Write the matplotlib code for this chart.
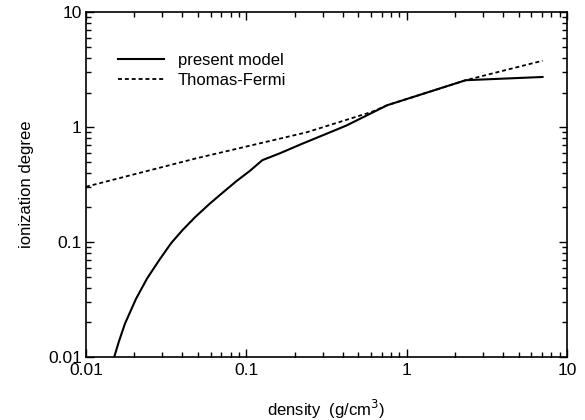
import matplotlib
matplotlib.use("Agg")
import matplotlib.pyplot as plt
from matplotlib.ticker import LogLocator, FuncFormatter, NullFormatter

plt.rcParams['font.family'] = ['Liberation Sans', 'DejaVu Sans']

# present model
pm_x = [0.0150, 0.0160, 0.0175, 0.0205, 0.0240, 0.0287, 0.034, 0.0402, 0.048, 0.059, 0.071, 0.0866,
        0.105, 0.126, 0.163, 0.217, 0.42, 0.757, 1.06, 2.34, 7.05]
pm_y = [0.0100, 0.0135, 0.0195, 0.0320, 0.048, 0.070, 0.098, 0.128, 0.165, 0.215, 0.268, 0.338,
        0.415, 0.516, 0.594, 0.705, 1.03, 1.55, 1.80, 2.56, 2.73]

# Thomas-Fermi
tf_x = [0.01, 0.0487, 0.237, 0.61, 0.757, 1.06, 2.34, 7.05]
tf_y = [0.303, 0.535, 0.90, 1.36, 1.55, 1.80, 2.56, 3.78]

fig = plt.figure(figsize=(5.85, 4.2), dpi=100)
ax = fig.add_axes([0.147, 0.15, 0.822, 0.821])

ax.plot(pm_x, pm_y, color='black', lw=1.5, label='present model')
ax.plot(tf_x, tf_y, color='black', lw=1.3, linestyle=(0, (2.2, 1.6)), label='Thomas-Fermi')

ax.set_xscale('log')
ax.set_yscale('log')
ax.set_xlim(0.01, 10)
ax.set_ylim(0.01, 10)

fmt = FuncFormatter(lambda v, p: f"{v:g}")
for a in (ax.xaxis, ax.yaxis):
    a.set_major_locator(LogLocator(base=10, numticks=10))
    a.set_minor_locator(LogLocator(base=10, subs=range(2, 10), numticks=10))
    a.set_major_formatter(fmt)
    a.set_minor_formatter(NullFormatter())

ax.tick_params(which='both', direction='in', top=True, right=True, labelsize=12.5, width=1)
ax.tick_params(which='major', length=6)
ax.tick_params(which='minor', length=3.5)
ax.tick_params(axis='x', pad=4)
ax.tick_params(axis='y', pad=3)
for s in ax.spines.values():
    s.set_linewidth(1.2)

ax.set_xlabel('density  (g/cm$^3$)', fontsize=12, labelpad=15)
ax.set_ylabel('ionization degree', fontsize=12, labelpad=10)

leg = ax.legend(loc='upper left', bbox_to_anchor=(0.035, 0.925), frameon=False, fontsize=12,
                handlelength=2.8, handletextpad=0.8, labelspacing=0.3)

fig.savefig('out.png', dpi=100)
